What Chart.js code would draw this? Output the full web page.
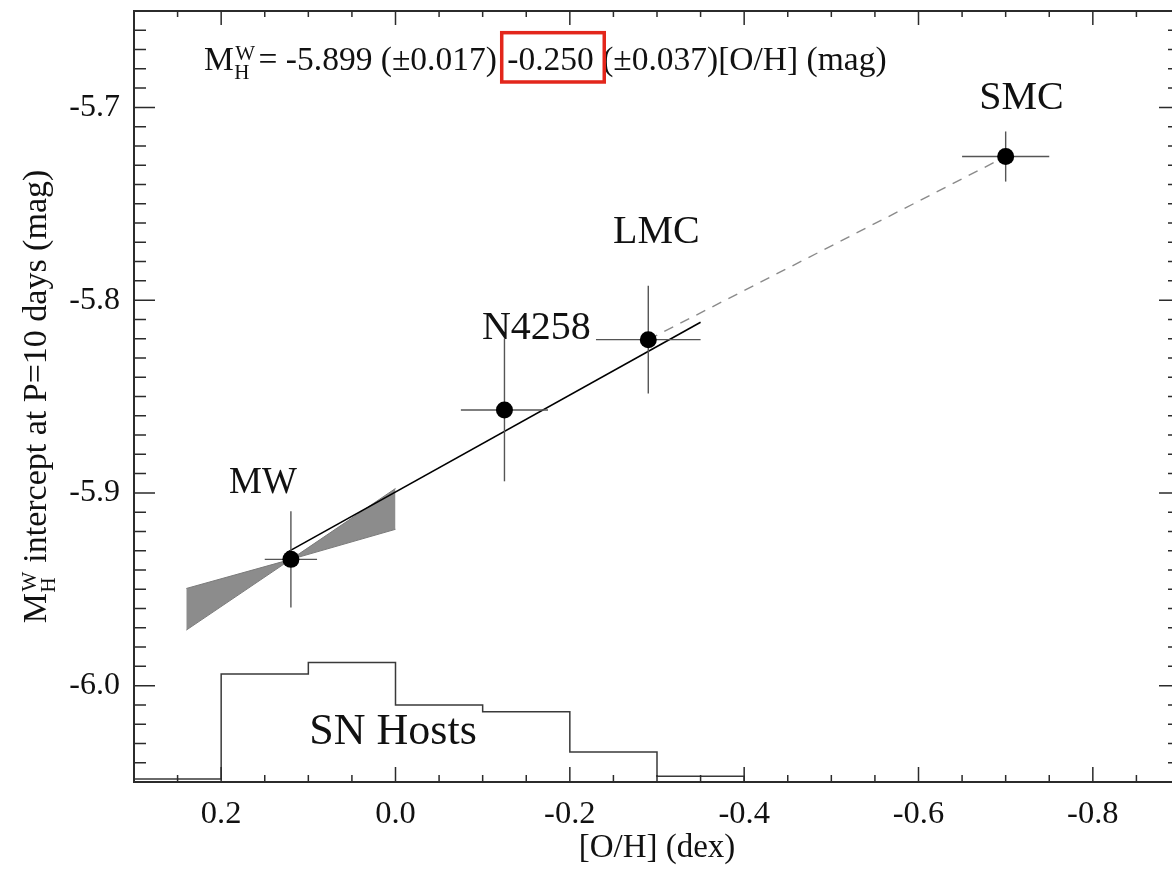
<!DOCTYPE html>
<html>
<head>
<meta charset="utf-8">
<script src="https://cdn.jsdelivr.net/npm/chart.js@4.4.0/dist/chart.umd.min.js"></script>
<style>
html,body{margin:0;padding:0;background:#fff;overflow:hidden;width:1172px;height:869px}
canvas{display:block}
</style>
</head>
<body>
<canvas id="c" width="1190" height="869" style="width:1190px;height:869px"></canvas>
<script>
// ---- data ----
const galaxyNames = ['MW', 'N4258', 'LMC', 'SMC'];
const galaxyOH    = [0.12, -0.125, -0.29, -0.70];
const galaxyOHErr = [0.03, 0.05, 0.06, 0.05];
const galaxyMH    = [-5.9345, -5.857, -5.8205, -5.7255];
const galaxyMHErr = [0.025, 0.037, 0.028, 0.013];

const fitOH = [0.125, -0.35];
const fitMH = [-5.931, -5.8115];

const extrapOH = [-0.29, -0.70];
const extrapMH = [-5.8205, -5.7255];

const wedgeOH      = [0.24, 0.12, 0.0];
const wedgeUpperMH = [-5.9496, -5.9345, -5.8977];
const wedgeLowerMH = [-5.9712, -5.9345, -5.9189];

const hostBinEdges  = [0.3, 0.2, 0.1, 0.0, -0.1, -0.2, -0.3, -0.4];
const hostBinLevels = [-6.0485, -5.994, -5.988, -6.010, -6.0135, -6.0345, -6.047];
const hostBaseLevel = -6.05;

const xTickValues = [0.2, 0.0, -0.2, -0.4, -0.6, -0.8];
const xTickLabels = ['0.2', '0.0', '-0.2', '-0.4', '-0.6', '-0.8'];
const yTickValues = [-6.0, -5.9, -5.8, -5.7];
const yTickLabels = ['-6.0', '-5.9', '-5.8', '-5.7'];

const equationParts = ['= -5.899 (\u00b10.017) ', '-0.250', ' (\u00b10.037)[O/H] (mag)'];
const yTitleRest = ' intercept at P=10 days (mag)';
const xTitle = '[O/H] (dex)';

// annotation anchors (data coordinates)
const annotations = [
  {text: 'MW',       oh: 0.152,   mh: -5.900,  size: 37},
  {text: 'N4258',    oh: -0.1616, mh: -5.8203, size: 40},
  {text: 'LMC',      oh: -0.2993, mh: -5.7705, size: 40},
  {text: 'SMC',      oh: -0.7181, mh: -5.7010, size: 40},
  {text: 'SN Hosts', oh: 0.0028,  mh: -6.0303, size: 44}
];
const equationAnchor = {oh: 0.2197, mh: -5.6806};

const SERIF = '"Liberation Serif", "Times New Roman", Times, serif';
const INK = '#111111';

// ---- datasets ----
const histPoints = [];
for (let i = 0; i < hostBinLevels.length; i++) {
  histPoints.push({x: hostBinEdges[i], y: hostBinLevels[i]});
  histPoints.push({x: hostBinEdges[i + 1], y: hostBinLevels[i]});
}
histPoints.push({x: hostBinEdges[hostBinEdges.length - 1], y: hostBaseLevel});

const datasets = [];
datasets.push({
  label: 'hosts', data: histPoints, borderColor: '#3a3a3a', borderWidth: 1.5,
  pointRadius: 0, fill: false, order: 8
});
datasets.push({
  label: 'wedgeUpper', data: wedgeOH.map((x, i) => ({x, y: wedgeUpperMH[i]})),
  borderColor: '#7a7a7a', borderWidth: 1, pointRadius: 0, fill: false, order: 6
});
datasets.push({
  label: 'wedgeLower', data: wedgeOH.map((x, i) => ({x, y: wedgeLowerMH[i]})),
  borderColor: '#7a7a7a', borderWidth: 1, pointRadius: 0,
  fill: '-1', backgroundColor: '#8c8c8c', order: 6
});
datasets.push({
  label: 'fit', data: fitOH.map((x, i) => ({x, y: fitMH[i]})),
  borderColor: '#000', borderWidth: 1.6, pointRadius: 0, fill: false, order: 4
});
datasets.push({
  label: 'extrap', data: extrapOH.map((x, i) => ({x, y: extrapMH[i]})),
  borderColor: '#8a8a8a', borderWidth: 1.4, borderDash: [10, 8], pointRadius: 0, fill: false, order: 5
});
for (let i = 0; i < galaxyNames.length; i++) {
  datasets.push({
    label: galaxyNames[i] + ' xerr',
    data: [{x: galaxyOH[i] - galaxyOHErr[i], y: galaxyMH[i]}, {x: galaxyOH[i] + galaxyOHErr[i], y: galaxyMH[i]}],
    borderColor: '#555', borderWidth: 1.4, pointRadius: 0, fill: false, order: 2
  });
  datasets.push({
    label: galaxyNames[i] + ' yerr',
    data: [{x: galaxyOH[i], y: galaxyMH[i] - galaxyMHErr[i]}, {x: galaxyOH[i], y: galaxyMH[i] + galaxyMHErr[i]}],
    borderColor: '#555', borderWidth: 1.4, pointRadius: 0, fill: false, order: 2
  });
}
datasets.push({
  label: 'galaxies', data: galaxyOH.map((x, i) => ({x, y: galaxyMH[i]})),
  showLine: false, pointRadius: 8.5, pointBorderWidth: 0,
  pointBackgroundColor: '#000', pointBorderColor: '#000', order: 0
});

// ---- decorations plugin (uses chart scales) ----
const decor = {
  id: 'decor',
  afterDatasetsDraw(chart) {
    const ctx = chart.ctx;
    const xs = chart.scales.x, ys = chart.scales.y;
    const {left, right, top, bottom} = chart.chartArea;
    ctx.save();
    ctx.fillStyle = INK;
    ctx.textBaseline = 'alphabetic';

    // labels
    ctx.textAlign = 'center';
    annotations.forEach(a => {
      ctx.font = a.size + 'px ' + SERIF;
      ctx.fillText(a.text, xs.getPixelForValue(a.oh), ys.getPixelForValue(a.mh));
    });

    // equation
    ctx.textAlign = 'left';
    const x0 = xs.getPixelForValue(equationAnchor.oh);
    const b = ys.getPixelForValue(equationAnchor.mh);
    ctx.font = '33.5px ' + SERIF;
    ctx.fillText('M', x0, b);
    const wM = ctx.measureText('M').width;
    ctx.font = '21px ' + SERIF;
    ctx.fillText('W', x0 + wM + 1.5, b - 9.5);
    ctx.fillText('H', x0 + wM + 0.5, b + 8.6);
    const wS = Math.max(ctx.measureText('W').width, ctx.measureText('H').width);
    let xc = x0 + wM + wS + 5;
    ctx.font = '33.5px ' + SERIF;
    ctx.fillText(equationParts[0], xc, b);
    xc += ctx.measureText(equationParts[0]).width + 2;
    const wMid = ctx.measureText(equationParts[1]).width;
    ctx.fillText(equationParts[1], xc, b);
    ctx.fillText(equationParts[2], xc + wMid, b);
    ctx.strokeStyle = '#e3261b';
    ctx.lineWidth = 3.5;
    ctx.strokeRect(xc - 5.5, b - 37.3, wMid + 16, 49.3);

    // y title (rotated)
    ctx.font = '34px ' + SERIF;
    const wM2 = ctx.measureText('M').width;
    ctx.font = '21px ' + SERIF;
    const wS2 = Math.max(ctx.measureText('W').width, ctx.measureText('H').width);
    ctx.font = '34px ' + SERIF;
    const wRest = ctx.measureText(yTitleRest).width;
    const total = wM2 + wS2 + 2 + wRest;
    ctx.save();
    ctx.translate(46, (top + bottom) / 2 + total / 2);
    ctx.rotate(-Math.PI / 2);
    ctx.fillStyle = INK;
    ctx.fillText('M', 0, 0);
    ctx.font = '21px ' + SERIF;
    ctx.fillText('W', wM2 + 1.5, -9.8);
    ctx.fillText('H', wM2 + 0.5, 8.8);
    ctx.font = '34px ' + SERIF;
    ctx.fillText(yTitleRest, wM2 + wS2 + 2, 0);
    ctx.restore();

    // frame
    ctx.strokeStyle = '#2b2b2b';
    ctx.lineWidth = 2;
    ctx.strokeRect(left, top, right - left, bottom - top);

    // inward ticks
    ctx.lineWidth = 1.5;
    ctx.beginPath();
    for (let k = -17; k <= 5; k++) {
      const v = k * 0.05;
      const major = (k % 4 === 0);
      const px = xs.getPixelForValue(v);
      const lb = major ? 15 : 7, lt = major ? 14 : 6;
      ctx.moveTo(px, bottom); ctx.lineTo(px, bottom - lb);
      ctx.moveTo(px, top); ctx.lineTo(px, top + lt);
    }
    for (let k = -604; k <= -566; k++) {
      const v = k * 0.01;
      const major = (k % 10 === 0);
      const py = ys.getPixelForValue(v);
      const l = major ? 21 : 12;
      ctx.moveTo(left, py); ctx.lineTo(left + l, py);
      ctx.moveTo(right, py); ctx.lineTo(right - l, py);
    }
    ctx.stroke();
    ctx.restore();
  }
};

new Chart(document.getElementById('c'), {
  type: 'line',
  data: {datasets},
  options: {
    responsive: false,
    animation: false,
    devicePixelRatio: 1,
    events: [],
    layout: {padding: {left: 0, top: 11, right: 10, bottom: 0}},
    plugins: {legend: {display: false}, tooltip: {enabled: false}, title: {display: false}},
    scales: {
      x: {
        type: 'linear', min: -0.9, max: 0.3, reverse: true, position: 'bottom',
        grid: {display: false, drawTicks: false},
        border: {display: false},
        afterBuildTicks: s => { s.ticks = xTickValues.map(v => ({value: v})); },
        afterFit: s => { s.height = 87; s.paddingLeft = 0; s.paddingRight = 0; },
        ticks: {
          padding: 13, color: INK, maxRotation: 0, autoSkip: false,
          font: {family: SERIF, size: 32.5},
          callback: (v) => xTickLabels[xTickValues.findIndex(t => Math.abs(t - v) < 1e-9)]
        },
        title: {display: true, text: xTitle, color: INK, font: {family: SERIF, size: 33}, padding: {top: 0, bottom: 1}}
      },
      y: {
        type: 'linear', min: -6.05, max: -5.65, position: 'left',
        grid: {display: false, drawTicks: false},
        border: {display: false},
        afterBuildTicks: s => { s.ticks = yTickValues.map(v => ({value: v})); },
        afterFit: s => { s.width = 134; s.paddingTop = 0; s.paddingBottom = 0; },
        ticks: {
          padding: 14, color: INK, autoSkip: false,
          font: {family: SERIF, size: 32},
          callback: (v) => yTickLabels[yTickValues.findIndex(t => Math.abs(t - v) < 1e-9)]
        },
        title: {display: false}
      }
    }
  },
  plugins: [decor]
});
</script>
</body>
</html>
